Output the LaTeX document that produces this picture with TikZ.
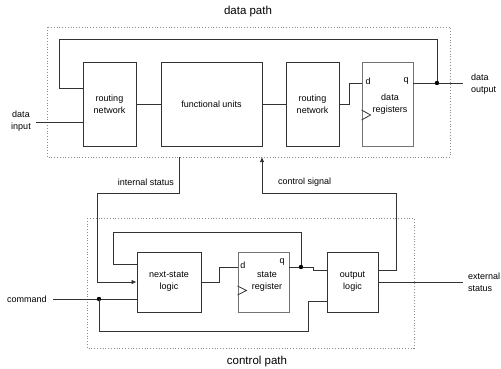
\documentclass[tikz,border=0pt]{standalone}
\usepackage{fontspec}
\setmainfont{Liberation Sans}
\usetikzlibrary{arrows.meta}
\begin{document}
\begin{tikzpicture}[x=1pt,y=-1pt,
  wire/.style={draw=black!80, line width=0.8pt},
  blk/.style={draw=black!80, line width=0.9pt, rectangle, inner sep=0pt, align=center,
     font=\fontsize{9}{12}\selectfont},
  regblk/.style={blk, draw=black!55},
  lbl/.style={font=\fontsize{9}{12}\selectfont, inner sep=0pt, align=left},
  ttl/.style={font=\fontsize{11.5}{14}\selectfont, inner sep=0pt},
  pathbox/.style={draw=black!45, line width=0.8pt, dotted},
  jdot/.style={fill=black, draw=none},
  arr/.style={wire, -{Latex[length=5pt,width=4.5pt]}}]
\useasboundingbox (0,0) rectangle (501,369);
% titles
\node[ttl] (tdp) at (248,12) {data path};
\node[ttl] (tcp) at (257,362) {control path};
% dotted boxes
\draw[pathbox] (47,27) rectangle (450,157);
\draw[pathbox] (87,218) rectangle (414,348);
% data path blocks
\node[blk, minimum width=53pt, minimum height=84pt] (rn1) at (109.5,104) {routing\\network};
\node[blk, minimum width=101pt, minimum height=84pt] (fu) at (211.5,104) {functional units};
\node[blk, minimum width=53pt, minimum height=84pt] (rn2) at (312.5,104) {routing\\network};
\node[regblk, minimum width=51pt, minimum height=84pt] (dr) at (387.5,104) {};
\node[lbl, align=center] (drt) at (390,104) {data\\registers};
\node[lbl] (drd) at (368,81) {d};
\node[lbl] (drq) at (406,81) {q};
\draw[wire] (dr.west |- 0,110) -- ++(9,5) -- ++(-9,5);
% control path blocks
\node[blk, minimum width=64pt, minimum height=60pt] (nsl) at (169,282) {next-state\\logic};
\node[regblk, minimum width=51pt, minimum height=60pt] (sr) at (263.5,282) {};
\node[lbl, align=center] (srt) at (267,282) {state\\register};
\node[lbl] (srd) at (243,265) {d};
\node[lbl] (srq) at (282,262) {q};
\draw[wire] (sr.west |- 0,286) -- ++(9,4.5) -- ++(-9,4.5);
\node[blk, minimum width=51pt, minimum height=60pt] (ol) at (352.5,282) {output\\logic};
% outer labels
\node[lbl, align=center] (ldin) at (21,121) {data\\input};
\node[lbl] (ldout) at (471,84) [anchor=west] {data\\output};
\node[lbl] (lext) at (468,282) [anchor=west] {external\\status};
\node[lbl] (lcmd) at (27,299) {command};
\node[lbl, anchor=east] (lis) at (174,182) {internal status};
\node[lbl, anchor=west] (lcs) at (278,182) {control signal};
% coordinates
\coordinate (din) at (36,122);
\coordinate (dout) at (463,83);
\coordinate (j1) at (437,83);
\coordinate (isrc) at (179,157);
\coordinate (cstip) at (262,157);
\coordinate (ext) at (463,282);
\coordinate (cmd) at (53,299);
\coordinate (j2) at (99,299);
\coordinate (j3) at (301,267);
% data path wires
\draw[wire] (din) -- (din -| rn1.west);
\draw[wire] (rn1.east) -- (fu.west);
\draw[wire] (fu.east) -- (rn2.east -| rn2.west);
\draw[wire] (rn2.east) -- ++(10,0) |- (dr.west |- 0,83);
\draw[wire] (dr.east |- 0,83) -- (dout);
\draw[wire] (j1) |- (59,39) |- (rn1.west |- 0,88);
\fill[jdot] (j1) circle (2.2pt);
% status / control
\draw[arr] (isrc) |- (97,193) |- (nsl.west |- 0,282);
\draw[arr] (ol.east |- 0,270) -| (396,193) -| (cstip);
% control path wires
\draw[wire] (cmd) -- (cmd -| nsl.west);
\fill[jdot] (j2) circle (2.2pt);
\draw[wire] (j2) |- (308,331) |- (ol.west |- 0,301);
\draw[wire] (nsl.east) -| (219,267) -- (sr.west |- 0,267);
\draw[wire] (sr.east |- 0,267) -- (313,267) -- (313,270) -- (ol.west |- 0,270);
\draw[wire] (j3) |- (113,232) |- (nsl.west |- 0,264);
\fill[jdot] (j3) circle (2.2pt);
\draw[wire] (ol.east |- 0,282) -- (ext);
\end{tikzpicture}
\end{document}
